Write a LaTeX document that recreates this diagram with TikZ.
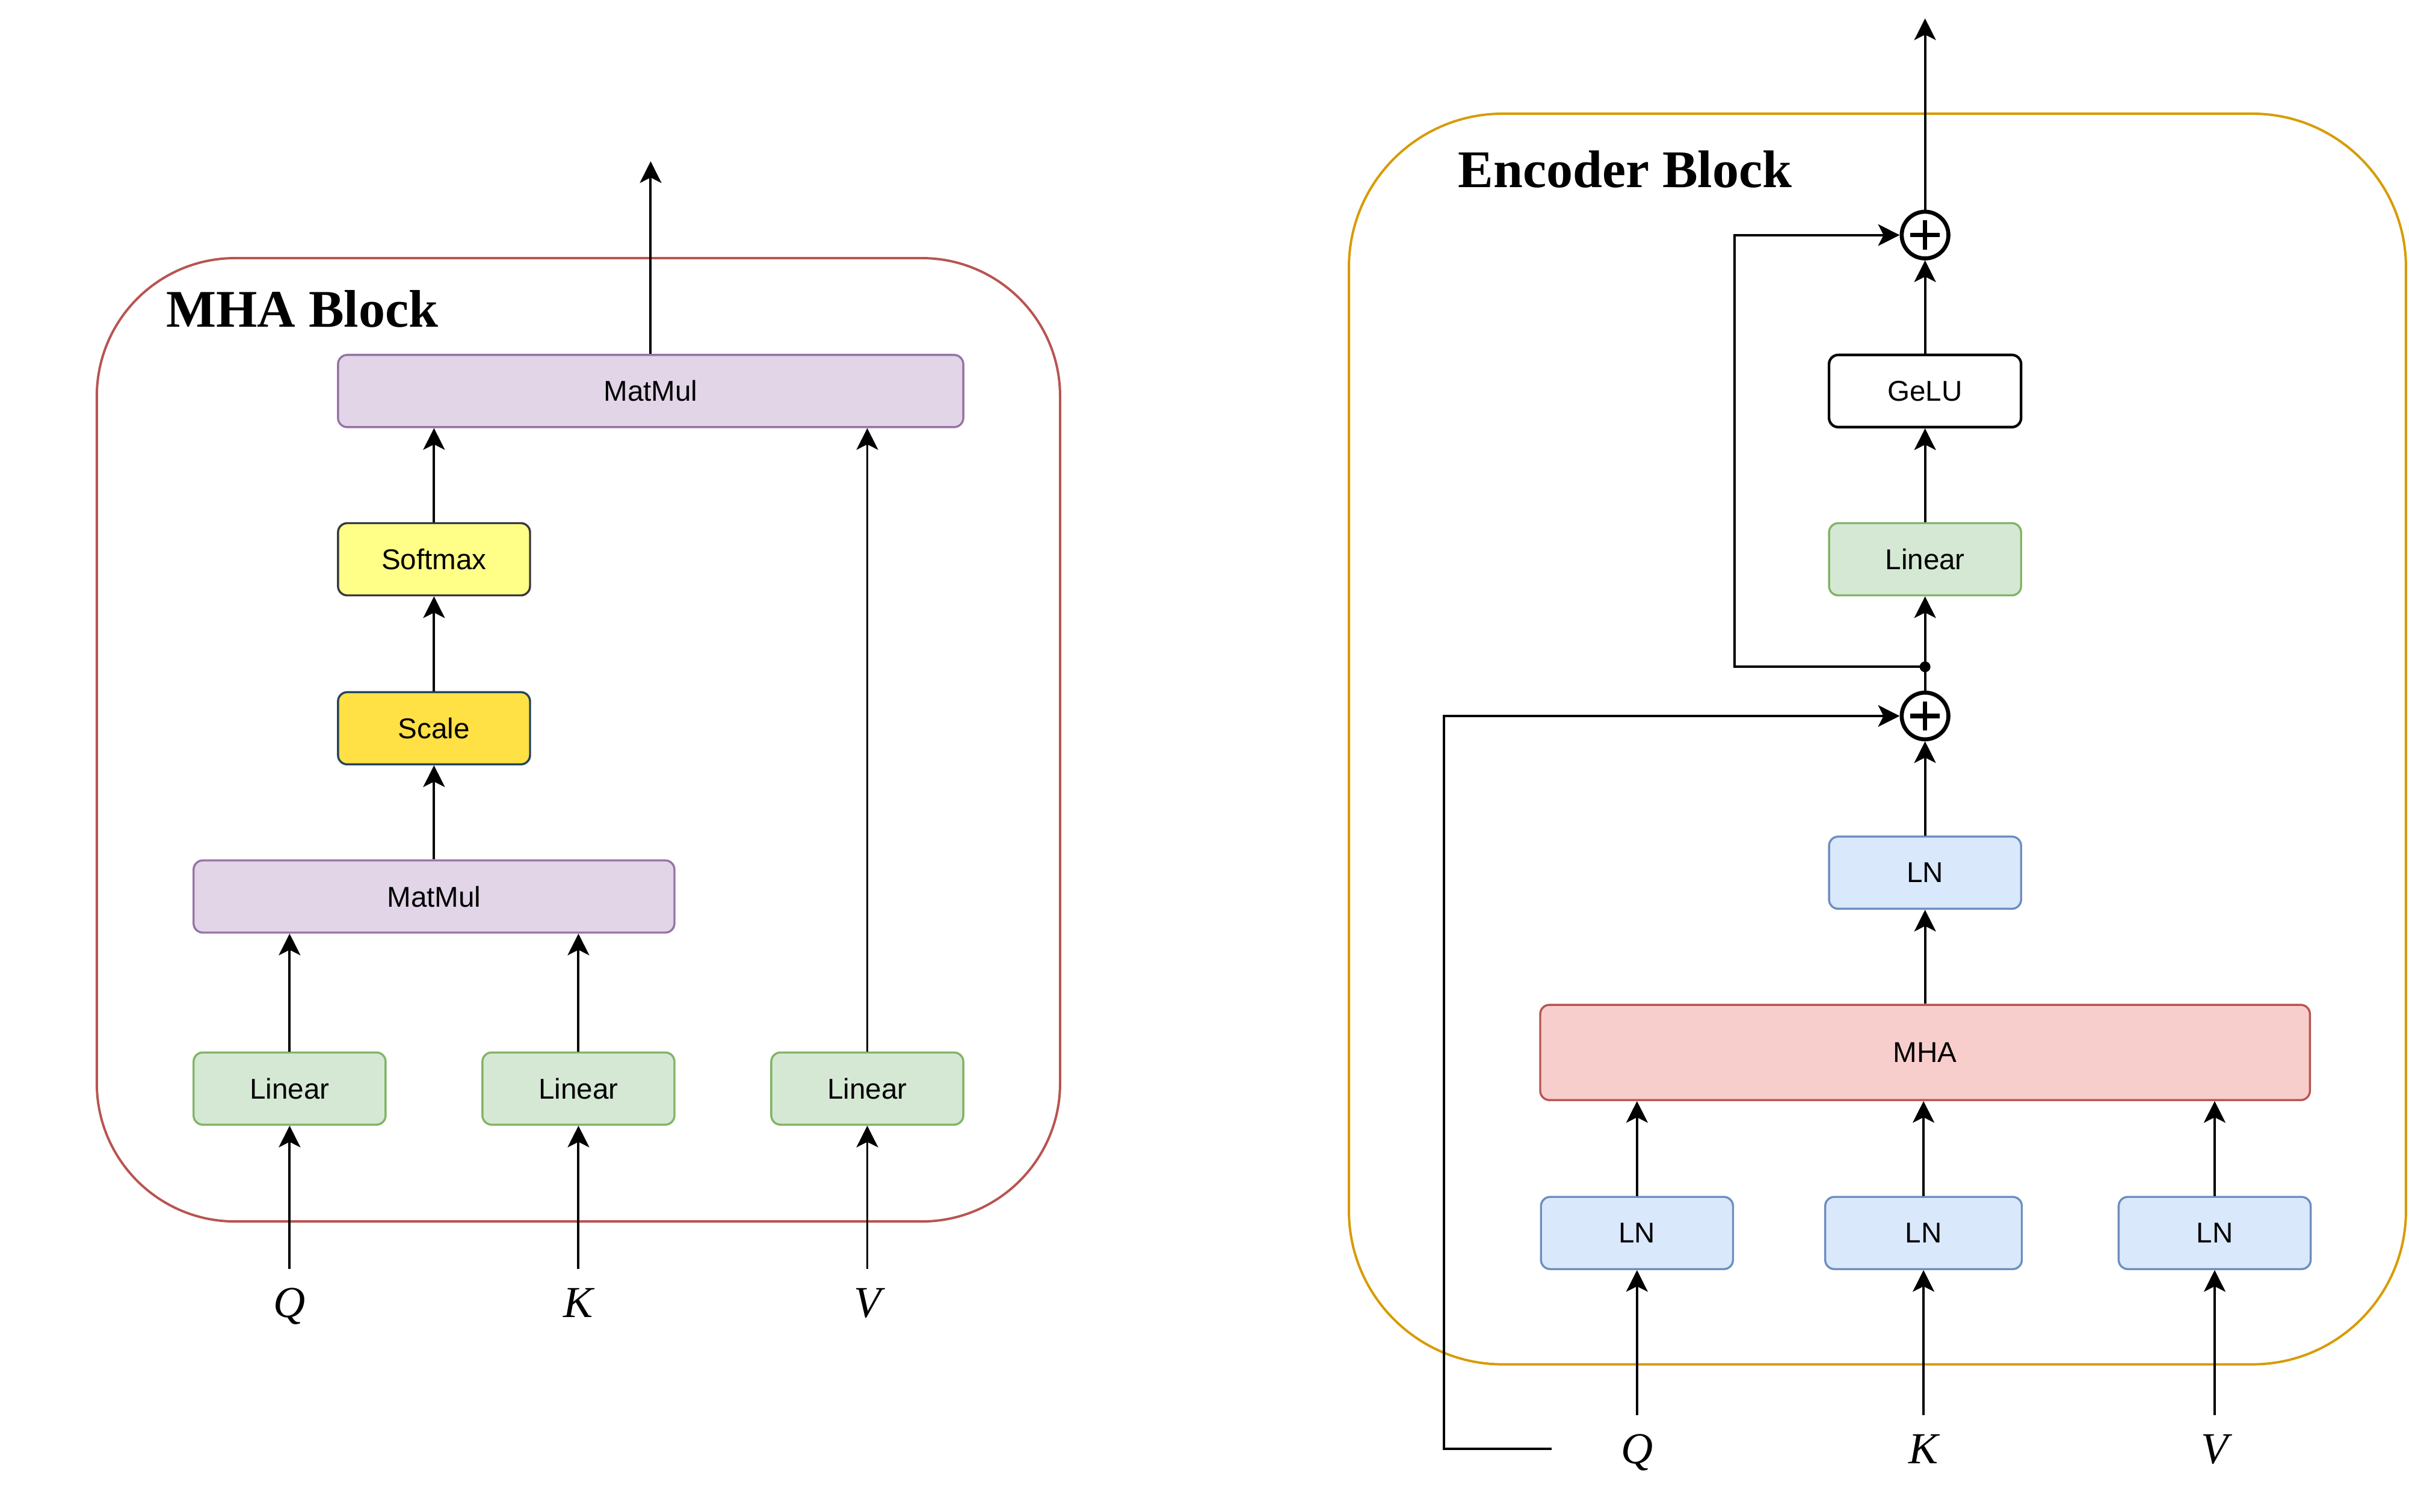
\documentclass[tikz,border=0pt]{standalone}
\usepackage{fontspec}
\setmainfont{Liberation Sans}
\newfontfamily\titlefont{Liberation Serif}
\usetikzlibrary{arrows.meta}

\definecolor{linfill}{HTML}{D5E8D4}
\definecolor{linline}{HTML}{82B366}
\definecolor{mmfill}{HTML}{E1D5E7}
\definecolor{mmline}{HTML}{9673A6}
\definecolor{lnfill}{HTML}{DAE8FC}
\definecolor{lnline}{HTML}{6C8EBF}
\definecolor{mhafill}{HTML}{F8CECC}
\definecolor{mhaline}{HTML}{B85450}
\definecolor{softfill}{HTML}{FFFF88}
\definecolor{softline}{HTML}{36393D}
\definecolor{scalefill}{HTML}{FFE045}
\definecolor{scaleline}{HTML}{23445D}
\definecolor{encline}{HTML}{D79B00}

\tikzset{
  box/.style={draw, rounded corners=0.3cm, line width=1.9pt, minimum width=6.25cm,
    minimum height=2.35cm, inner sep=0pt, font=\fontsize{26.5}{30}\selectfont},
  linbox/.style={box, fill=linfill, draw=linline},
  mmbox/.style={box, fill=mmfill, draw=mmline},
  lnbox/.style={box, fill=lnfill, draw=lnline},
  arr/.style={-{Stealth[length=20pt, width=20pt, inset=5pt]}, line width=2.2pt},
  plain/.style={line width=2.2pt},
  addnode/.style={circle, draw, fill=white, line width=3.7pt, minimum size=1.52cm, inner sep=0pt,
    path picture={
      \draw[line width=4pt] (path picture bounding box.center) ++(-13.5pt,0) -- ++(27pt,0);
      \draw[line width=4pt] (path picture bounding box.center) ++(0,-13.5pt) -- ++(0,27pt);
    }},
  inp/.style={font=\titlefont\itshape\fontsize{41}{41}\selectfont, text depth=0pt,
    minimum height=2.2cm, inner sep=0pt},
  blocktitle/.style={font=\titlefont\bfseries\fontsize{49}{49}\selectfont, anchor=base west, inner sep=0pt},
  frame/.style={line width=2.2pt},
}

\begin{document}
\begin{tikzpicture}[x=0.05cm, y=-0.05cm]
  \useasboundingbox (0,0) rectangle (1568,984);

  % MHA block
  \draw[frame, draw=mhaline, rounded corners=4.5cm] (63,168) rectangle (690,795);
  \node[blocktitle] (mhatitle) at (108,213) {MHA Block};

  \node[mmbox, minimum width=20.35cm] (mmtop) at (423.5,254.5) {MatMul};
  \node[box, fill=softfill, draw=softline] (soft) at (282.5,364) {Softmax};
  \node[box, fill=scalefill, draw=scaleline] (scale) at (282.5,474) {Scale};
  \node[mmbox, minimum width=15.65cm] (mmlow) at (282.5,583.5) {MatMul};
  \node[linbox] (linq) at (188.5,708.5) {Linear};
  \node[linbox] (link) at (376.5,708.5) {Linear};
  \node[linbox] (linv) at (564.5,708.5) {Linear};
  \node[inp] (q) at (188.5,848) {Q};
  \node[inp] (k) at (376.5,848) {K};
  \node[inp] (v) at (564.5,848) {V};
  \coordinate (mhaout) at (423.5,105);

  \draw[arr] (mmtop.north) -- (mhaout);
  \draw[arr] (soft.north) -- (soft.north |- mmtop.south);
  \draw[arr] (scale.north) -- (soft.south);
  \draw[arr] (mmlow.north) -- (scale.south);
  \draw[arr] (linq.north) -- (linq.north |- mmlow.south);
  \draw[arr] (link.north) -- (link.north |- mmlow.south);
  \draw[arr] (linv.north) -- (linv.north |- mmtop.south);
  \foreach \i/\l in {q/linq, k/link, v/linv}
    \draw[arr] (\i.north) -- (\l.south);

  % Encoder block
  \draw[frame, draw=encline, rounded corners=5cm] (878,74) rectangle (1566,888);
  \node[blocktitle] (enctitle) at (949,122) {Encoder Block};

  \node[addnode] (add1) at (1253,153) {};
  \node[box, fill=white, draw=black, line width=2.4pt] (gelu) at (1253,254.5) {GeLU};
  \node[linbox] (lin2) at (1253,364) {Linear};
  \node[circle, fill, inner sep=0pt, minimum size=10pt] (tap) at (1253,434) {};
  \node[addnode] (add2) at (1253,466) {};
  \node[lnbox] (ln4) at (1253,568) {LN};
  \node[box, fill=mhafill, draw=mhaline, minimum width=25.05cm, minimum height=3.1cm] (mha) at (1253,685) {MHA};
  \node[lnbox] (ln1) at (1065.5,802.5) {LN};
  \node[lnbox, minimum width=6.4cm] (ln2) at (1252,802.5) {LN};
  \node[lnbox] (ln3) at (1441.5,802.5) {LN};
  \node[inp] (q2) at (1065.5,943) {Q};
  \node[inp] (k2) at (1252,943) {K};
  \node[inp] (v2) at (1441.5,943) {V};
  \coordinate (encout) at (1253,12);
  \coordinate (qtap) at (1010,943);

  \draw[arr] (add1.north) -- (encout);
  \draw[arr] (gelu.north) -- (add1.south);
  \draw[arr] (lin2.north) -- (gelu.south);
  \draw[arr] (tap.center) -- (lin2.south);
  \draw[plain] (add2.north) -- (tap.center);
  \draw[arr] (tap.center) -- ++(-124,0) |- (add1.west);
  \draw[arr] (ln4.north) -- (add2.south);
  \draw[arr] (mha.north) -- (ln4.south);
  \foreach \l in {ln1, ln2, ln3}
    \draw[arr] (\l.north) -- (\l.north |- mha.south);
  \foreach \i/\l in {q2/ln1, k2/ln2, v2/ln3}
    \draw[arr] (\i.north) -- (\l.south);
  \draw[arr] (qtap) -- ++(-70,0) |- (add2.west);
\end{tikzpicture}
\end{document}
